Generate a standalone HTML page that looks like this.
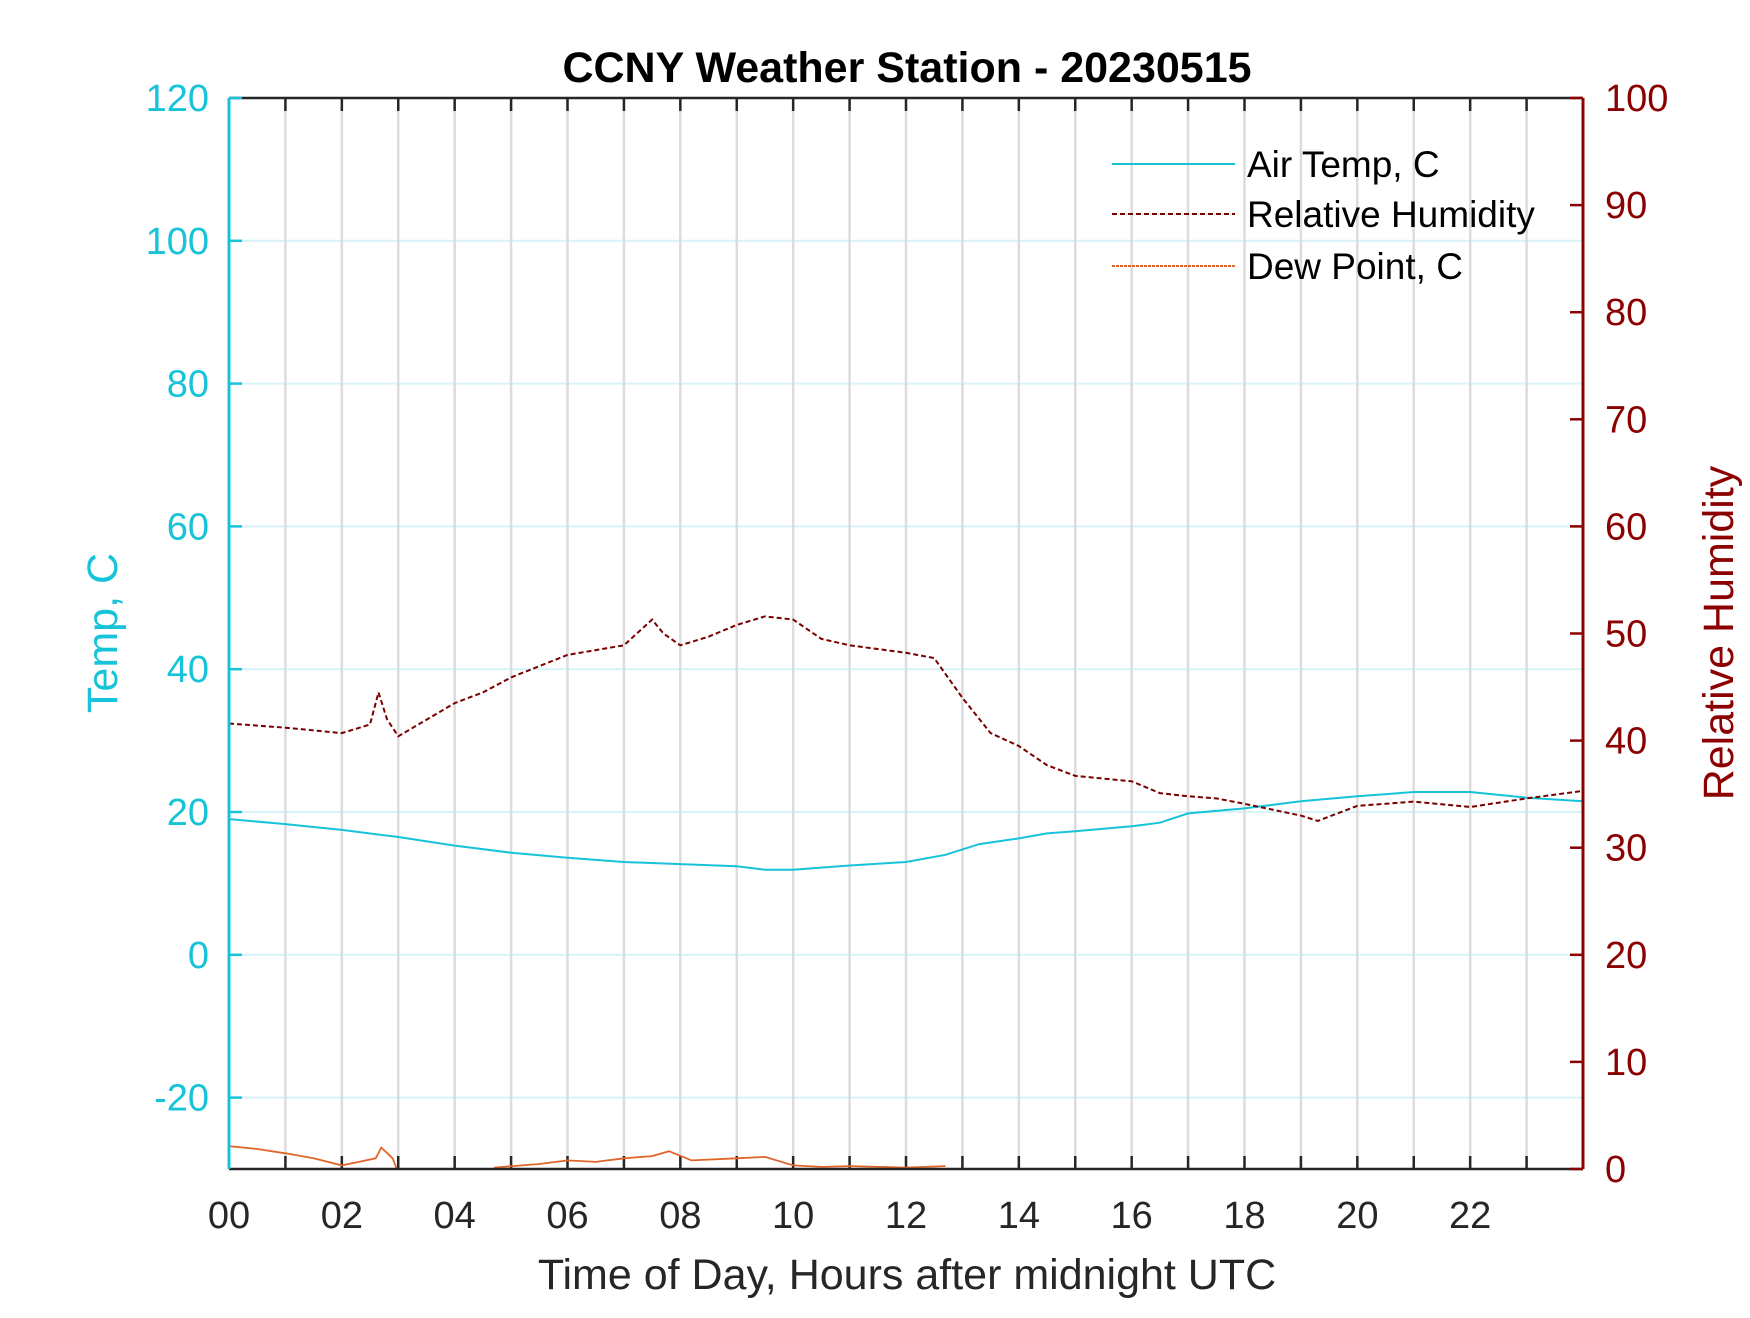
<!DOCTYPE html>
<html><head><meta charset="utf-8"><style>body{margin:0;background:#fff}svg text{font-family:"Liberation Sans",Arial,sans-serif}</style></head>
<body>
<svg id="chart" width="1750" height="1313" xmlns="http://www.w3.org/2000/svg"><defs><clipPath id="pc"><rect x="229" y="98" width="1354" height="1071"/></clipPath></defs></svg>
<script>
const hours=[0,1,2,3,4,5,6,7,8,9,9.5,10,11,12,12.7,13.3,14,14.5,15,16,16.5,17,18,19,20,21,22,23,24];
const tempValues=[19,18.3,17.5,16.5,15.3,14.3,13.6,13,12.7,12.4,11.9,11.9,12.5,13,14,15.5,16.3,17,17.3,18,18.5,19.8,20.5,21.5,22.2,22.8,22.8,22,21.5];
const rhHours=[0,1,2,2.5,2.65,2.8,3,4,4.5,5,6,7,7.5,7.7,8,8.5,9,9.5,10,10.5,11,12,12.5,13,13.5,14,14.5,15,16,16.5,17,17.5,18,19,19.3,20,21,22,23,24];
const rhValues=[41.6,41.2,40.7,41.5,44.5,42,40.4,43.5,44.5,45.9,48,48.9,51.3,50,48.9,49.7,50.8,51.6,51.3,49.5,48.9,48.2,47.7,44,40.7,39.5,37.7,36.7,36.2,35.1,34.8,34.6,34.1,33,32.5,33.9,34.3,33.8,34.6,35.3];
const dewHours=[0,0.5,1,1.5,2,2.3,2.6,2.7,2.9,3,4.6,4.7,5.5,6,6.5,7,7.5,7.8,8.2,9,9.5,10,10.5,11,12,12.7,12.8];
const dewValues=[-26.8,-27.2,-27.8,-28.5,-29.5,-29,-28.5,-27,-28.5,-30.5,null,-29.8,-29.3,-28.8,-29,-28.5,-28.2,-27.5,-28.8,-28.5,-28.3,-29.5,-29.7,-29.6,-29.8,-29.6,null];
const xTicks=["00","02","04","06","08","10","12","14","16","18","20","22"];
const tempTicks=[-20,0,20,40,60,80,100,120];
const rhTicks=[0,10,20,30,40,50,60,70,80,90,100];

const L=229,R=1583,T=98,B=1169;
const xs=h=>L+(R-L)*h/24;
const yT=v=>B-(B-T)*(v+30)/150;
const yH=v=>B-(B-T)*v/100;
const svg=document.getElementById('chart');
const NS='http://www.w3.org/2000/svg';
function mk(tag,attrs,txt){const e=document.createElementNS(NS,tag);for(const k in attrs)e.setAttribute(k,attrs[k]);if(txt!==undefined)e.textContent=txt;svg.appendChild(e);return e;}

for(const v of tempTicks){const g=mk('line',{x1:L,x2:R,y1:yT(v),y2:yT(v),stroke:'#d6f3f7','stroke-width':2});

}
for(let h=1;h<24;h++){const g=mk('line',{x1:xs(h),x2:xs(h),y1:T,y2:B,stroke:'#dcdcdc','stroke-width':2.5});


mk('line',{x1:xs(h),x2:xs(h),y1:T,y2:T+13,stroke:'#262626','stroke-width':2.5});
mk('line',{x1:xs(h),x2:xs(h),y1:B,y2:B-13,stroke:'#262626','stroke-width':2.5});}

function path(xsArr,ysArr,fx,fy){let d='',pen=false;for(let i=0;i<xsArr.length;i++){if(ysArr[i]===null){pen=false;continue;}d+=(pen?'L':'M')+fx(xsArr[i]).toFixed(1)+','+fy(ysArr[i]).toFixed(1);pen=true;}return d;}
const dp=mk('path',{d:path(dewHours,dewValues,xs,yT),fill:'none',stroke:'#e0652a','stroke-width':1.8,'clip-path':'url(#pc)'});


const tp=mk('path',{d:path(hours,tempValues,xs,yT),fill:'none',stroke:'#17c3d8','stroke-width':2,'clip-path':'url(#pc)'});


const rp=mk('path',{d:path(rhHours,rhValues,xs,yH),fill:'none',stroke:'#7a0000','stroke-width':2,'stroke-dasharray':'5,3','clip-path':'url(#pc)'});



mk('line',{x1:L,x2:R,y1:T,y2:T,stroke:'#262626','stroke-width':2.5});
mk('line',{x1:L,x2:R,y1:B,y2:B,stroke:'#262626','stroke-width':2.5});
const la=mk('line',{x1:L,x2:L,y1:T,y2:B,stroke:'#17c3d8','stroke-width':3});


const ra=mk('line',{x1:R,x2:R,y1:T,y2:B,stroke:'#8b0000','stroke-width':3});



for(const v of tempTicks){mk('line',{x1:L,x2:L+13,y1:yT(v),y2:yT(v),stroke:'#17c3d8','stroke-width':2.5});
const t=mk('text',{x:L-20,y:yT(v)+13,'text-anchor':'end','font-size':38,fill:'#17c3d8'},v);

}
for(const v of rhTicks){mk('line',{x1:R,x2:R-13,y1:yH(v),y2:yH(v),stroke:'#8b0000','stroke-width':2.5});
const t=mk('text',{x:R+22,y:yH(v)+13,'font-size':38,fill:'#8b0000'},v);

}
xTicks.forEach((s,i)=>{const t=mk('text',{x:xs(i*2),y:1228,'text-anchor':'middle','font-size':38,fill:'#262626'},s);

});

let t=mk('text',{x:907,y:82,'text-anchor':'middle','font-size':43,'font-weight':'bold',fill:'#000'},'CCNY Weather Station - 20230515');


t=mk('text',{x:907,y:1289,'text-anchor':'middle','font-size':43,fill:'#262626'},'Time of Day, Hours after midnight UTC');


t=mk('text',{x:117,y:633,'text-anchor':'middle','font-size':43,fill:'#17c3d8',transform:'rotate(-90 117 633)'},'Temp, C');


t=mk('text',{x:1733,y:633,'text-anchor':'middle','font-size':43,fill:'#8b0000',transform:'rotate(-90 1733 633)'},'Relative Humidity');



const leg=[['Air Temp, C','#17c3d8','none',164],['Relative Humidity','#7a0000','5,3',214],['Dew Point, C','#e0652a','3,1',266]];
for(const [n,c,da,y] of leg){mk('line',{x1:1112,x2:1235,y1:y,y2:y,stroke:c,'stroke-width':2,'stroke-dasharray':da});
const e=mk('text',{x:1247,y:y+13,'font-size':37,fill:'#000'},n);

}
</script>
</body></html>
